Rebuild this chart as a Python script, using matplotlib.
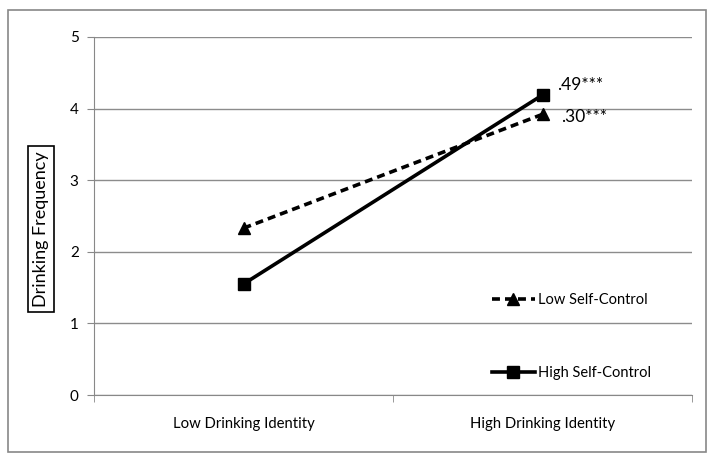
import matplotlib
matplotlib.use("Agg")
import matplotlib.pyplot as plt
from matplotlib.patches import Rectangle

categories = ["Low Drinking Identity", "High Drinking Identity"]
low_sc = [2.33, 3.92]
high_sc = [1.55, 4.19]
series_labels = ["Low Self-Control", "High Self-Control"]
annotations = [".49***", ".30***"]
yticks = [0, 1, 2, 3, 4, 5]

plt.rcParams['font.family'] = ['Lato', 'DejaVu Sans']

fig = plt.figure(figsize=(7.14, 4.61), dpi=100)
ax = fig.add_axes([94/714, 1-395/461, (692-94)/714, (395-37)/461])

xpos = [0.5, 1.5]
l1, = ax.plot(xpos, low_sc, color='black', lw=2.6, ls=(0, (2.2, 1.4)), marker='^',
              markersize=8, label=series_labels[0], zorder=3)
l2, = ax.plot(xpos, high_sc, color='black', lw=2.6, ls='-', marker='s',
              markersize=9, label=series_labels[1], zorder=3)

ax.set_xlim(0, 2)
ax.set_ylim(0, 5)
ax.set_yticks(yticks)
ax.set_xticks(xpos)
ax.set_xticklabels(categories, fontsize=10.7)
ax.tick_params(axis='x', length=0, pad=16)
ax.set_xticks([0, 1, 2], minor=True)
ax.tick_params(axis='x', which='minor', length=5, direction='out', color='#888888')
ax.tick_params(axis='y', length=5, direction='out', color='#888888', labelsize=11, pad=6)
ax.yaxis.grid(True, color='#8c8c8c', lw=1.0)
ax.set_axisbelow(True)
for s in ['top', 'right']:
    ax.spines[s].set_visible(False)
for s in ['left', 'bottom']:
    ax.spines[s].set_color('#888888')

ax.text(1.548, 4.33, annotations[0], fontsize=12.5, va='center', ha='left')
ax.text(1.562, 3.88, annotations[1], fontsize=12.5, va='center', ha='left')

leg = ax.legend(handles=[l1, l2], loc='upper left', bbox_to_anchor=(0.655, 0.3),
                frameon=False, fontsize=10.5, handlelength=3.0, labelspacing=4.0,
                handletextpad=0.2, borderaxespad=0)

fig.text(41/714, 1-229/461, "Drinking Frequency", rotation=90, fontsize=13,
         ha='center', va='center',
         bbox=dict(boxstyle='square,pad=0.3', fc='white', ec='black', lw=1.2))

fig.patches.append(Rectangle((8/714, 1-452/461), (706-8)/714, (452-10)/461,
                             transform=fig.transFigure, fill=False, ec='#888888', lw=1.2))

fig.savefig("out.png", dpi=100)
